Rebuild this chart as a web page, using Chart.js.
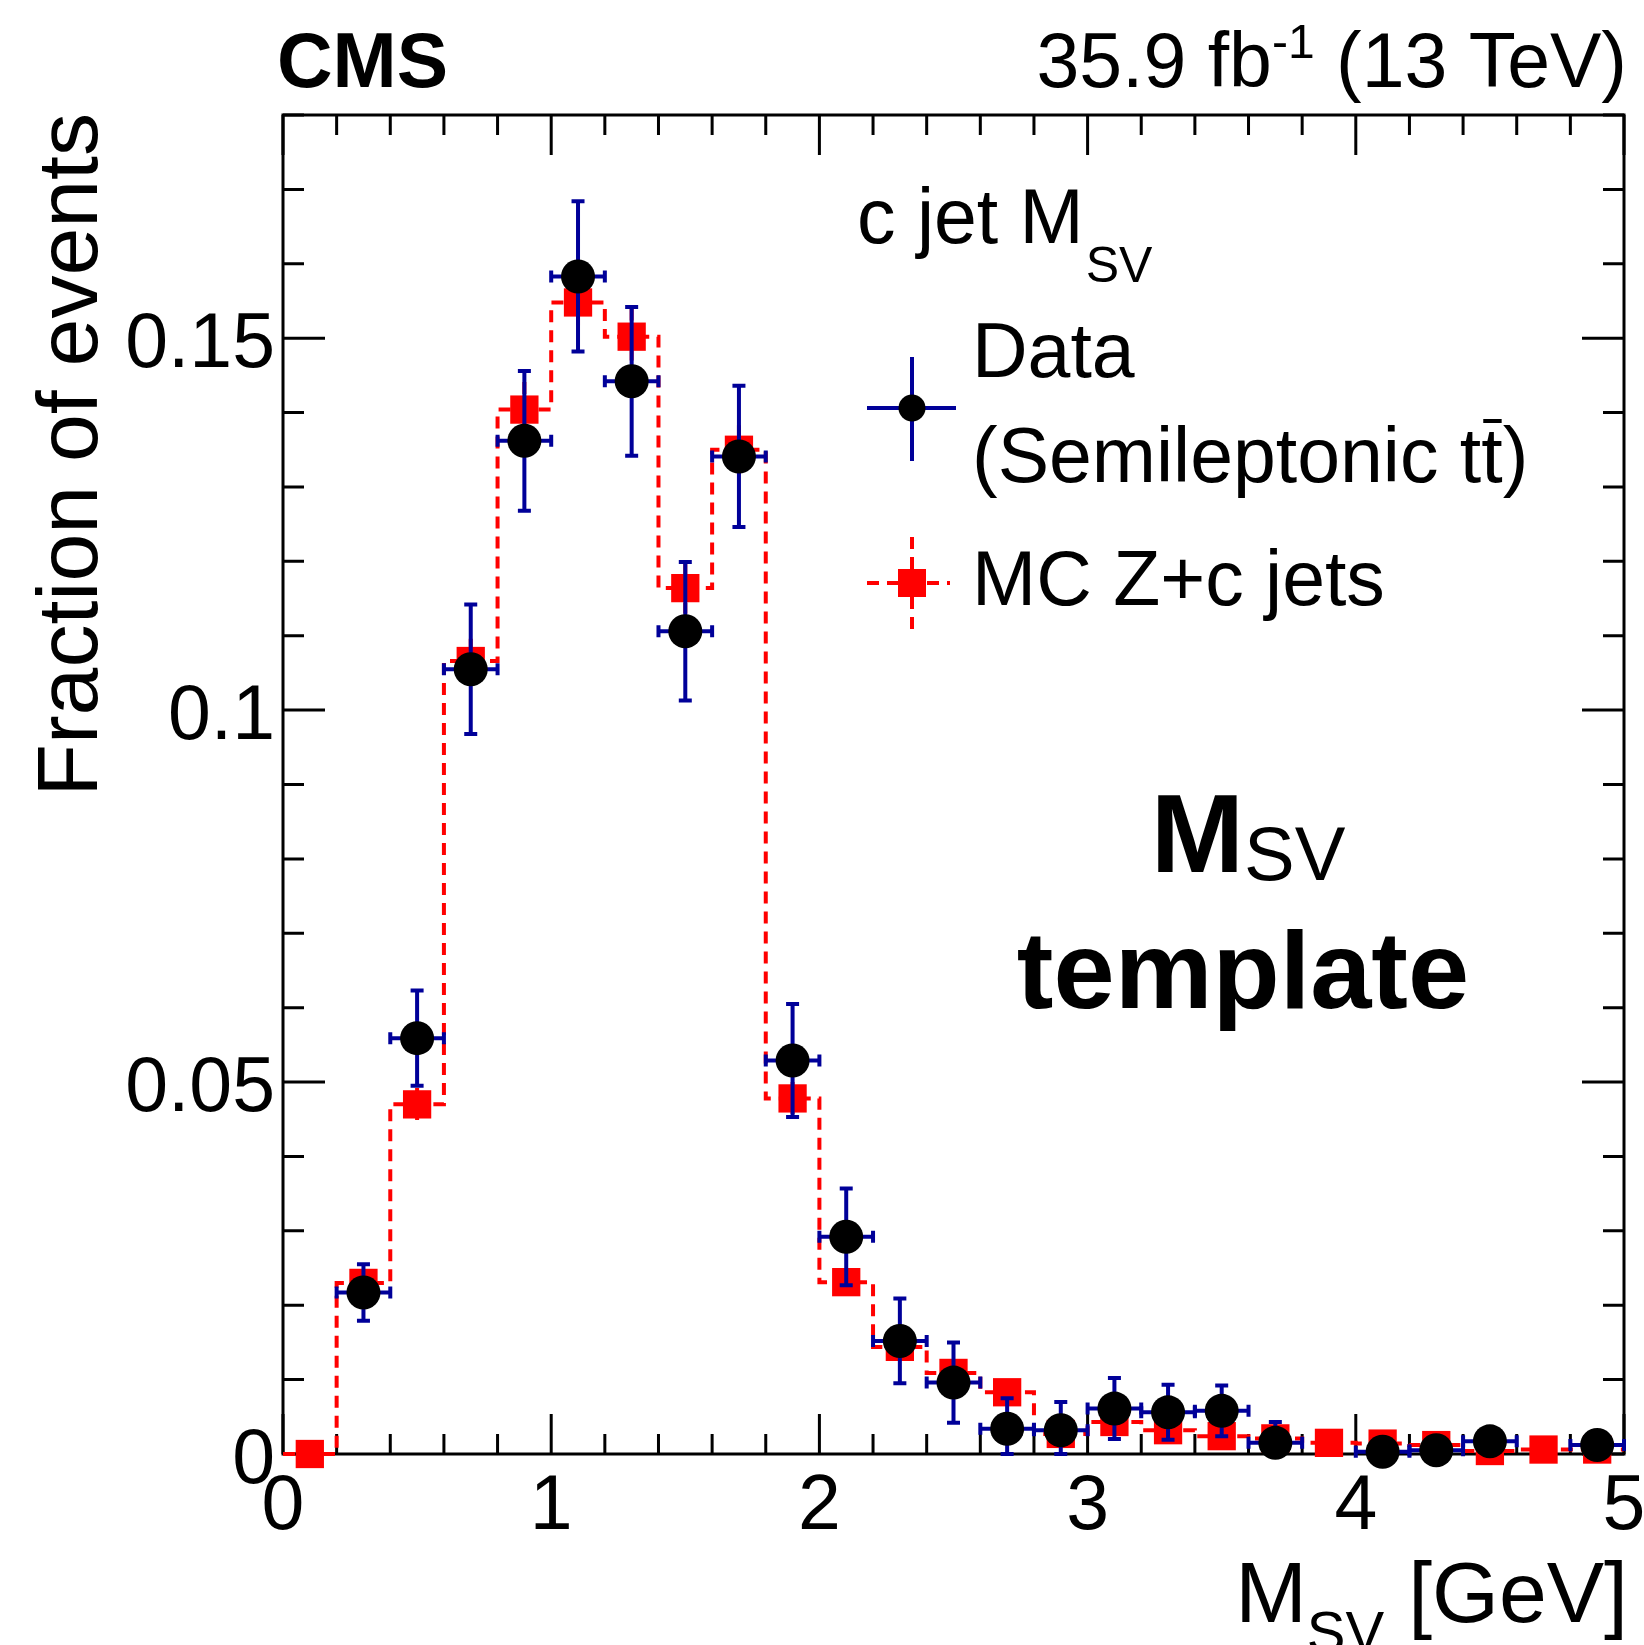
<!DOCTYPE html>
<html>
<head>
<meta charset="utf-8">
<title>c jet M_SV template</title>
<script src="https://cdn.jsdelivr.net/npm/chart.js@4.4.1/dist/chart.umd.min.js"></script>
<style>
    html, body { margin: 0; padding: 0; background: #ffffff; }
    canvas { display: block; }
</style>
</head>
<body>
<canvas id="msvChart" width="1644" height="1645"></canvas>
<script>
// M_SV histogram, 0.2 GeV bins from 0 to 5 GeV
const binCenters = [0.1, 0.3, 0.5, 0.7, 0.9, 1.1, 1.3, 1.5, 1.7, 1.9,
                    2.1, 2.3, 2.5, 2.7, 2.9, 3.1, 3.3, 3.5, 3.7, 3.9,
                    4.1, 4.3, 4.5, 4.7, 4.9];
const binWidth = 0.2;

// Data (semileptonic ttbar), empty bins are null
const dataValues = [null, 0.0217, 0.0559, 0.1055, 0.1362, 0.1583, 0.1442, 0.1106, 0.1341, 0.0529,
                    0.0292, 0.0152, 0.0096, 0.0034, 0.0032, 0.0061, 0.0056, 0.0058, 0.0015, null,
                    0.0003, 0.0005, 0.0017, null, 0.0012];
const dataErrors = [0, 0.0038, 0.0064, 0.0087, 0.0094, 0.0101, 0.0100, 0.0093, 0.0095, 0.0076,
                    0.0065, 0.0057, 0.0054, 0.0041, 0.0038, 0.0041, 0.0037, 0.0034, 0.0028, 0,
                    0.0010, 0.0010, 0.0012, 0, 0.0010];

// MC Z+c jets
const mcValues = [0.0, 0.0230, 0.0470, 0.1066, 0.1404, 0.1548, 0.1502, 0.1164, 0.1350, 0.0478,
                  0.0231, 0.0144, 0.0109, 0.0083, 0.0027, 0.0043, 0.0032, 0.0024, 0.0021, 0.0015,
                  0.0014, 0.0012, 0.0004, 0.0006, 0.0006];
const mcErrors = [0, 0.0015, 0.0022, 0.0030, 0.0037, 0.0039, 0.0038, 0.0034, 0.0033, 0.0022,
                  0.0016, 0.0013, 0.0011, 0.0010, 0.0006, 0.0007, 0.0006, 0.0005, 0.0005, 0.0004,
                  0.0004, 0.0004, 0.0002, 0.0003, 0.0003];

const xTicks = [0, 1, 2, 3, 4, 5];
const xTickLabels = ['0', '1', '2', '3', '4', '5'];
const yTicks = [0, 0.05, 0.1, 0.15];
const yTickLabels = ['0', '0.05', '0.1', '0.15'];
const xMinorStep = 0.2;
const yMinorStep = 0.01;

const dataColor = '#000099';
const mcColor = '#ff0000';
const mcDash = [12, 8];
const FONT = '"Liberation Sans", Arial, Helvetica, sans-serif';

function font(size, bold) {
    return (bold ? 'bold ' : '') + size + 'px ' + FONT;
}

// frame and inward ticks on all four sides
function drawFrame(chart) {
    const { ctx, chartArea: a, scales: { x, y } } = chart;
    ctx.save();
    ctx.strokeStyle = '#000';
    ctx.lineWidth = 3;
    ctx.lineCap = 'butt';
    ctx.beginPath();
    const nx = Math.round((x.max - x.min) / xMinorStep);
    for (let k = 0; k <= nx; k++) {
        const v = x.min + k * xMinorStep;
        const major = xTicks.some(t => Math.abs(t - v) < 1e-6);
        const len = major ? 40 : 20;
        const px = x.getPixelForValue(v);
        ctx.moveTo(px, a.bottom); ctx.lineTo(px, a.bottom - len);
        ctx.moveTo(px, a.top); ctx.lineTo(px, a.top + len);
    }
    const ny = Math.round((y.max - y.min) / yMinorStep);
    for (let k = 0; k <= ny; k++) {
        const v = y.min + k * yMinorStep;
        const major = yTicks.some(t => Math.abs(t - v) < 1e-6);
        const len = major ? 42 : 21;
        const py = y.getPixelForValue(v);
        ctx.moveTo(a.left, py); ctx.lineTo(a.left + len, py);
        ctx.moveTo(a.right, py); ctx.lineTo(a.right - len, py);
    }
    ctx.stroke();
    ctx.strokeRect(a.left, a.top, a.right - a.left, a.bottom - a.top);
    ctx.restore();
}

function drawDataErrors(chart) {
    const { ctx, scales: { x, y } } = chart;
    ctx.save();
    ctx.strokeStyle = dataColor;
    ctx.lineWidth = 4;
    binCenters.forEach((c, i) => {
        const v = dataValues[i];
        if (v === null) return;
        const e = dataErrors[i];
        const px = x.getPixelForValue(c);
        const py = y.getPixelForValue(v);
        const xl = x.getPixelForValue(c - binWidth / 2);
        const xr = x.getPixelForValue(c + binWidth / 2);
        const yt = y.getPixelForValue(v + e);
        const yb = y.getPixelForValue(Math.max(v - e, y.min));
        ctx.beginPath();
        ctx.moveTo(xl, py); ctx.lineTo(xr, py);
        ctx.moveTo(xl, py - 6); ctx.lineTo(xl, py + 6);
        ctx.moveTo(xr, py - 6); ctx.lineTo(xr, py + 6);
        if (e > 0) {
            ctx.moveTo(px, yt); ctx.lineTo(px, yb);
            ctx.moveTo(px - 6.5, yt); ctx.lineTo(px + 6.5, yt);
            ctx.moveTo(px - 6.5, yb); ctx.lineTo(px + 6.5, yb);
        }
        ctx.stroke();
    });
    ctx.restore();
}

function drawMcErrors(chart) {
    const { ctx, scales: { x, y } } = chart;
    ctx.save();
    ctx.strokeStyle = mcColor;
    ctx.lineWidth = 4;
    ctx.setLineDash(mcDash);
    binCenters.forEach((c, i) => {
        const e = mcErrors[i];
        if (!e) return;
        const px = x.getPixelForValue(c);
        ctx.beginPath();
        ctx.moveTo(px, y.getPixelForValue(mcValues[i] + e));
        ctx.lineTo(px, y.getPixelForValue(Math.max(mcValues[i] - e, y.min)));
        ctx.stroke();
    });
    ctx.restore();
}

function drawTexts(chart) {
    const { ctx, chartArea: a, scales: { x, y } } = chart;
    ctx.save();
    ctx.fillStyle = '#000';
    ctx.textBaseline = 'alphabetic';

    // tick labels
    ctx.font = font(77);
    ctx.textAlign = 'right';
    yTicks.forEach((t, i) => ctx.fillText(yTickLabels[i], a.left - 8, y.getPixelForValue(t) + 29));
    ctx.textAlign = 'center';
    xTicks.forEach((t, i) => ctx.fillText(xTickLabels[i], x.getPixelForValue(t), a.bottom + 75));

    // y title
    ctx.save();
    ctx.translate(97, a.top - 2);
    ctx.rotate(-Math.PI / 2);
    ctx.textAlign = 'right';
    ctx.font = font(86);
    ctx.fillText('Fraction of events', 0, 0);
    ctx.restore();

    // x title: M_SV [GeV], right aligned
    ctx.textAlign = 'left';
    ctx.font = font(86);
    const wM = ctx.measureText('M').width;
    const wG = ctx.measureText(' [GeV]').width;
    ctx.font = font(58);
    const wS = ctx.measureText('SV').width;
    let xs = 1628 - wM - wS - wG;
    ctx.font = font(86);
    ctx.fillText('M', xs, 1622);
    ctx.font = font(58);
    ctx.fillText('SV', xs + wM, 1652);
    ctx.font = font(86);
    ctx.fillText(' [GeV]', xs + wM + wS, 1622);

    // CMS label and luminosity
    ctx.font = font(77, true);
    ctx.fillText('CMS', 277, 87);
    ctx.font = font(77);
    const w1 = ctx.measureText('35.9 fb').width;
    const w3 = ctx.measureText(' (13 TeV)').width;
    ctx.font = font(48);
    const w2 = ctx.measureText('-1').width;
    xs = 1627 - w1 - w2 - w3;
    ctx.font = font(77);
    ctx.fillText('35.9 fb', xs, 87);
    ctx.font = font(48);
    ctx.fillText('-1', xs + w1, 58);
    ctx.font = font(77);
    ctx.fillText(' (13 TeV)', xs + w1 + w2, 87);

    // legend header
    ctx.font = font(77);
    ctx.fillText('c jet M', 857, 243);
    const wh = ctx.measureText('c jet M').width;
    ctx.font = font(50);
    ctx.fillText('SV', 857 + wh + 2, 282);

    // legend: data entry
    ctx.strokeStyle = dataColor;
    ctx.lineWidth = 4;
    ctx.beginPath();
    ctx.moveTo(867, 408); ctx.lineTo(956, 408);
    ctx.moveTo(912, 357); ctx.lineTo(912, 461);
    ctx.stroke();
    ctx.beginPath();
    ctx.arc(912, 408, 13.5, 0, Math.PI * 2);
    ctx.fill();

    // legend: MC entry
    ctx.strokeStyle = mcColor;
    ctx.setLineDash(mcDash);
    ctx.beginPath();
    ctx.moveTo(867, 583); ctx.lineTo(950, 583);
    ctx.stroke();
    ctx.beginPath();
    ctx.moveTo(912, 537); ctx.lineTo(912, 635);
    ctx.stroke();
    ctx.setLineDash([]);
    ctx.fillStyle = mcColor;
    ctx.fillRect(898, 569, 28, 28);
    ctx.fillStyle = '#000';

    ctx.font = font(77);
    ctx.fillText('Data', 972, 377);
    const pre = '(Semileptonic t';
    ctx.fillText(pre + 't)', 972, 482);
    const wPre = ctx.measureText(pre).width;
    const wT = ctx.measureText('t').width;
    ctx.fillRect(972 + wPre + 2, 419, wT - 3, 4);
    ctx.fillText('MC Z+c jets', 972, 605);

    // template label
    ctx.font = font(112, true);
    const wBig = ctx.measureText('M').width;
    ctx.font = font(76);
    const wSv = ctx.measureText('SV').width;
    xs = 1248 - (wBig + wSv) / 2;
    ctx.font = font(112, true);
    ctx.fillText('M', xs, 872);
    ctx.font = font(76);
    ctx.fillText('SV', xs + wBig, 880);
    ctx.textAlign = 'center';
    ctx.font = font(110, true);
    ctx.fillText('template', 1243, 1008);

    ctx.restore();
}

const histoDecor = {
    id: 'histoDecor',
    beforeDatasetsDraw(chart) {
        drawFrame(chart);
    },
    beforeDatasetDraw(chart, args) {
        const label = chart.data.datasets[args.index].label;
        if (label === 'MC Z+c jets') drawMcErrors(chart);
        if (label === 'Data') drawDataErrors(chart);
    },
    afterDraw(chart) {
        drawTexts(chart);
    }
};

function buildChart() {
    const ctx = document.getElementById('msvChart');

    const dataPoints = binCenters.map((c, i) => ({ x: c, y: dataValues[i] }));
    const mcPoints = binCenters.map((c, i) => ({ x: c, y: mcValues[i] }));
    // step outline: extend first and last bins out to the histogram edges
    const stepPoints = [{ x: binCenters[0] - binWidth / 2, y: mcValues[0] }]
        .concat(mcPoints)
        .concat([{ x: binCenters[binCenters.length - 1] + binWidth / 2, y: mcValues[mcValues.length - 1] }]);

    return new Chart(ctx, {
        type: 'line',
        data: {
            datasets: [{
                    label: 'Data',
                    data: dataPoints,
                    showLine: false,
                    pointStyle: 'circle',
                    pointRadius: 17,
                    pointHoverRadius: 17,
                    pointBackgroundColor: '#000000',
                    pointBorderWidth: 0,
                    clip: false
                },
                {
                    label: 'MC Z+c jets',
                    data: mcPoints,
                    showLine: false,
                    pointStyle: 'rect',
                    pointRadius: 20,
                    pointHoverRadius: 20,
                    pointBackgroundColor: mcColor,
                    pointBorderWidth: 0,
                    clip: false
                },
                {
                    label: 'MC outline',
                    data: stepPoints,
                    stepped: 'middle',
                    borderColor: mcColor,
                    borderWidth: 4,
                    borderDash: mcDash,
                    pointRadius: 0,
                    fill: false,
                    clip: false
                }
            ]
        },
        options: {
            responsive: false,
            animation: false,
            events: [],
            layout: {
                padding: { left: 283, right: 20, top: 115, bottom: 191 }
            },
            plugins: {
                legend: { display: false },
                tooltip: { enabled: false }
            },
            scales: {
                x: {
                    type: 'linear',
                    min: 0,
                    max: 5,
                    grid: { display: false },
                    border: { display: false },
                    ticks: { display: false },
                    afterFit: function (scale) { scale.height = 0; }
                },
                y: {
                    type: 'linear',
                    min: 0,
                    max: 0.18,
                    grid: { display: false },
                    border: { display: false },
                    ticks: { display: false },
                    afterFit: function (scale) { scale.width = 0; }
                }
            }
        },
        plugins: [histoDecor]
    });
}

buildChart();
</script>
</body>
</html>
